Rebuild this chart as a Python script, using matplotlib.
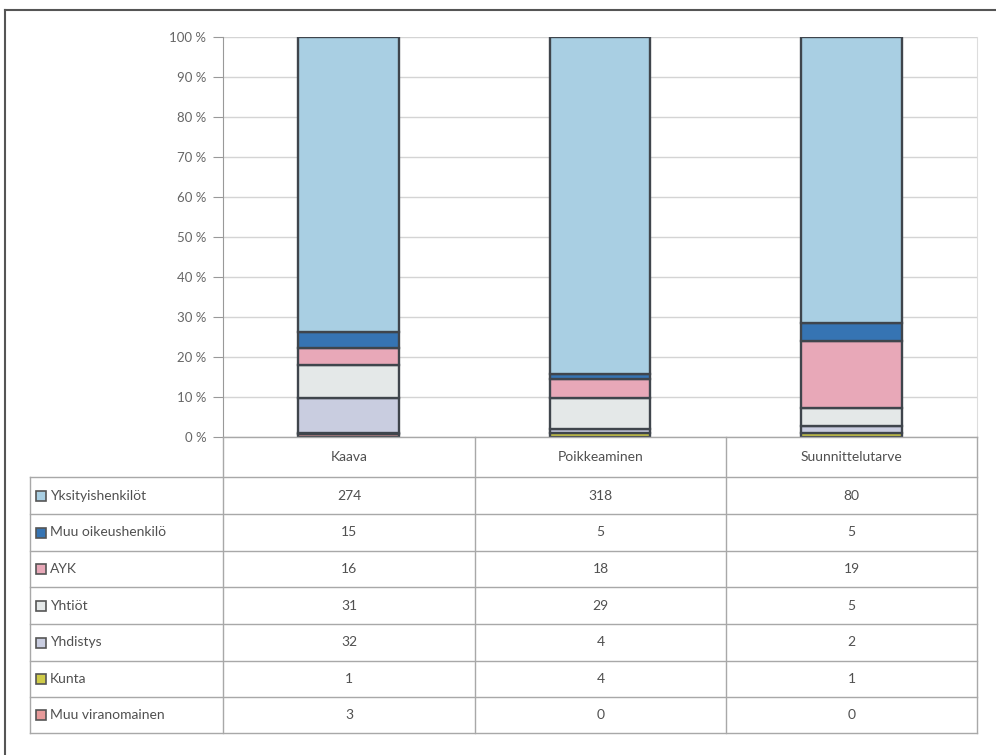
import numpy as np
import matplotlib
matplotlib.use("Agg")
import matplotlib.pyplot as plt

plt.rcParams['font.family'] = ['Lato', 'DejaVu Sans']

categories = ["Kaava", "Poikkeaminen", "Suunnittelutarve"]
series = ["Yksityishenkilöt", "Muu oikeushenkilö", "AYK", "Yhtiöt",
          "Yhdistys", "Kunta", "Muu viranomainen"]
yksityis = [274, 318, 80]
muu_oikeus = [15, 5, 5]
ayk = [16, 18, 19]
yhtiot = [31, 29, 5]
yhdistys = [32, 4, 2]
kunta = [1, 4, 1]
muu_viran = [3, 0, 0]
values = [yksityis, muu_oikeus, ayk, yhtiot, yhdistys, kunta, muu_viran]
colors = ["#a9cfe3", "#3674b3", "#e8a8b8", "#e4e8e8",
          "#c9cde0", "#cfcb48", "#e79a9a"]

W, H = 996, 755
fig = plt.figure(figsize=(W / 100, H / 100), dpi=100)

# plot area in pixel terms
x0, x1, ytop, ybot = 223, 977, 37, 437
ax = fig.add_axes([x0 / W, 1 - ybot / H, (x1 - x0) / W, (ybot - ytop) / H])

data = np.array(values, dtype=float)
pct = data / data.sum(axis=0) * 100
ind = np.arange(len(categories))
bottom = np.zeros(len(categories))
# stack from the last series (bottom) to the first (top)
for i in range(len(series) - 1, -1, -1):
    ax.bar(ind, pct[i], 0.4, bottom=bottom, color=colors[i],
           edgecolor="#3f454c", linewidth=1.7, zorder=3)
    bottom += pct[i]

ax.set_xlim(-0.5, len(categories) - 0.5)
ax.set_ylim(0, 100)
ax.set_yticks(np.arange(0, 101, 10))
ax.set_yticklabels([f"{t} %" for t in range(0, 101, 10)], fontsize=9.5, color="#666666")
ax.set_xticks([])
ax.yaxis.grid(True, color="#d4d4d4", linewidth=1, zorder=0)
ax.tick_params(axis="y", length=7, color="#999999", pad=5)
for s in ["top", "bottom"]:
    ax.spines[s].set_visible(False)
ax.spines["left"].set_color("#999999")
ax.spines["right"].set_color("#dddddd")

# overlay in pixel coords for the data table and frame
ov = fig.add_axes([0, 0, 1, 1], zorder=5)
ov.set_xlim(0, W)
ov.set_ylim(H, 0)
ov.axis("off")
ov.patch.set_alpha(0)

lc = "#a8a8a8"
col_x = [30, 223, 475, 726, 977]
row_y = [437, 477, 514, 551, 587, 624, 661, 697, 733]

# horizontal lines
ov.plot([col_x[1], col_x[-1]], [row_y[0], row_y[0]], color=lc, lw=1)
for y in row_y[1:]:
    ov.plot([col_x[0], col_x[-1]], [y, y], color=lc, lw=1)
# vertical lines
ov.plot([col_x[0], col_x[0]], [row_y[1], row_y[-1]], color=lc, lw=1)
for x in col_x[1:]:
    ov.plot([x, x], [row_y[0], row_y[-1]], color=lc, lw=1)

tc = "#505050"
for j, cat in enumerate(categories):
    cx = (col_x[j + 1] + col_x[j + 2]) / 2
    ov.text(cx, (row_y[0] + row_y[1]) / 2, cat, ha="center", va="center",
            fontsize=10, color=tc)
    for i in range(len(series)):
        cy = (row_y[i + 1] + row_y[i + 2]) / 2
        ov.text(cx, cy, str(values[i][j]), ha="center", va="center",
                fontsize=10, color=tc)

for i, name in enumerate(series):
    cy = (row_y[i + 1] + row_y[i + 2]) / 2
    ov.add_patch(plt.Rectangle((36, cy - 5), 10, 10, facecolor=colors[i],
                               edgecolor="#555555", lw=1.2))
    ov.text(50, cy, name, ha="left", va="center", fontsize=10, color=tc)

# outer frame (top and left edges visible)
ov.plot([5, W], [10, 10], color="#555555", lw=1.5)
ov.plot([5, 5], [10, H], color="#555555", lw=1.5)

fig.savefig("out.png", dpi=100)
